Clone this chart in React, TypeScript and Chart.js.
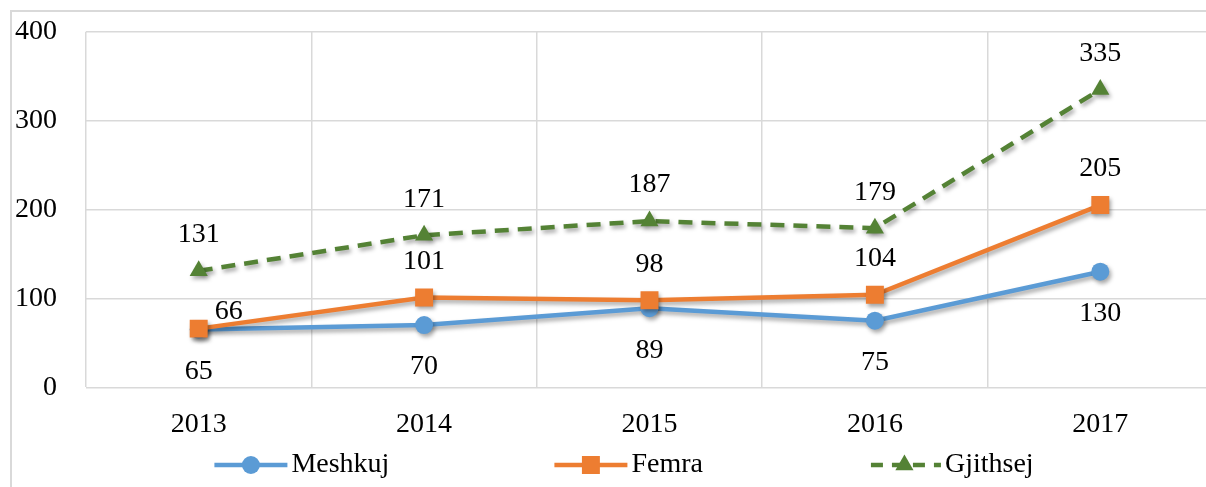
import React, { useEffect, useRef } from "react";
import { Chart, registerables } from "chart.js";

Chart.register(...registerables);

const years = ["2013", "2014", "2015", "2016", "2017"];
const meshkuj = [65, 70, 89, 75, 130];
const femra = [66, 101, 98, 104, 205];
const gjithsej = [131, 171, 187, 179, 335];
const yTicks = [0, 100, 200, 300, 400];

const FONT = "'Liberation Serif', 'Times New Roman', serif";
const FS = 28;
const GRID = "#d9d9d9";

const framePlugin = {
  id: "outerFrame",
  beforeDraw(chart: any) {
    const c = chart.ctx;
    c.save();
    c.strokeStyle = GRID;
    c.lineWidth = 2;
    c.beginPath();
    c.moveTo(11, chart.height + 5);
    c.lineTo(11, 11);
    c.lineTo(chart.width + 5, 11);
    c.stroke();
    c.restore();
  },
};

const shadowPlugin = {
  id: "markShadow",
  beforeDatasetDraw(chart: any) {
    const c = chart.ctx;
    c.save();
    c.shadowColor = "rgba(0,0,0,0.35)";
    c.shadowBlur = 4;
    c.shadowOffsetX = 2;
    c.shadowOffsetY = 3;
  },
  afterDatasetDraw(chart: any) {
    chart.ctx.restore();
  },
};

const labelPlugin = {
  id: "valueLabels",
  afterDatasetsDraw(chart: any) {
    const ctx = chart.ctx;
    ctx.save();
    ctx.font = `${FS}px ${FONT}`;
    ctx.fillStyle = "#000";
    ctx.textAlign = "center";
    ctx.textBaseline = "middle";
    chart.data.datasets.forEach((ds: any, i: number) => {
      const meta = chart.getDatasetMeta(i);
      meta.data.forEach((pt: any, j: number) => {
        const place = ds.labelPlaces[j];
        let dx = 0;
        let dy = 0;
        if (place === "below") dy = 42;
        else if (place === "above") dy = -36;
        else if (place === "right") {
          dx = 30;
          dy = -17;
        }
        ctx.fillText(String(ds.data[j]), pt.x + dx, pt.y + dy);
      });
    });
    ctx.restore();
  },
};

const legendPlugin = {
  id: "lineLegend",
  afterDraw(chart: any) {
    const ctx = chart.ctx;
    const y = chart.height - 22;
    const symW = 73;
    const textGap = 4;
    const itemGap = 165;
    ctx.save();
    ctx.font = `${FS}px ${FONT}`;
    const items = chart.data.datasets.map((ds: any) => ({
      ds,
      tw: ctx.measureText(ds.label).width,
    }));
    const total =
      items.reduce((s: number, it: any) => s + symW + textGap + it.tw, 0) +
      itemGap * (items.length - 1);
    let x = 624 - total / 2;
    items.forEach((it: any) => {
      const ds = it.ds;
      ctx.save();
      ctx.strokeStyle = ds.borderColor;
      ctx.lineWidth = ds.borderWidth;
      ctx.lineCap = "butt";
      if (ds.borderDash && ds.borderDash.length) {
        ctx.setLineDash([12, 9]);
        ctx.lineDashOffset = -3;
      }
      ctx.beginPath();
      ctx.moveTo(x, y);
      ctx.lineTo(x + symW, y);
      ctx.stroke();
      ctx.setLineDash([]);
      ctx.fillStyle = ds.pointBackgroundColor;
      const cx = x + symW / 2;
      const r = ds.pointRadius;
      ctx.beginPath();
      if (ds.pointStyle === "circle") {
        ctx.arc(cx, y, r, 0, Math.PI * 2);
      } else if (ds.pointStyle === "rect") {
        const s = r * Math.SQRT1_2;
        ctx.rect(cx - s, y - s, 2 * s, 2 * s);
      } else {
        ctx.moveTo(cx, y - r);
        ctx.lineTo(cx + r * 0.866, y + r * 0.5);
        ctx.lineTo(cx - r * 0.866, y + r * 0.5);
        ctx.closePath();
      }
      ctx.fill();
      ctx.restore();
      ctx.fillStyle = "#000";
      ctx.textAlign = "left";
      ctx.textBaseline = "middle";
      ctx.fillText(ds.label, x + symW + textGap, y);
      x += symW + textGap + it.tw + itemGap;
    });
    ctx.restore();
  },
};

export default function App() {
  const ref = useRef<HTMLCanvasElement | null>(null);

  useEffect(() => {
    document.body.style.overflow = "hidden";
    const canvas = ref.current;
    if (!canvas) return;
    const chart = new Chart(canvas, {
      type: "line",
      data: {
        labels: years,
        datasets: [
          {
            label: "Meshkuj",
            data: meshkuj,
            borderColor: "#5b9bd5",
            backgroundColor: "#5b9bd5",
            pointBackgroundColor: "#5b9bd5",
            pointBorderColor: "#5b9bd5",
            borderWidth: 4.5,
            pointStyle: "circle",
            pointRadius: 9,
            pointBorderWidth: 0,
            tension: 0,
            order: 2,
            labelPlaces: ["below", "below", "below", "below", "below"],
          } as any,
          {
            label: "Femra",
            data: femra,
            borderColor: "#ed7d31",
            backgroundColor: "#ed7d31",
            pointBackgroundColor: "#ed7d31",
            pointBorderColor: "#ed7d31",
            borderWidth: 4.5,
            pointStyle: "rect",
            pointRadius: 12.7,
            pointBorderWidth: 0,
            tension: 0,
            order: 1,
            labelPlaces: ["right", "above", "above", "above", "above"],
          } as any,
          {
            label: "Gjithsej",
            data: gjithsej,
            borderColor: "#548235",
            backgroundColor: "#548235",
            pointBackgroundColor: "#548235",
            pointBorderColor: "#548235",
            borderWidth: 4.5,
            borderDash: [14, 9],
            borderCapStyle: "butt",
            pointStyle: "triangle",
            pointRadius: 10.5,
            pointBorderWidth: 0,
            tension: 0,
            order: 0,
            labelPlaces: ["above", "above", "above", "above", "above"],
          } as any,
        ],
      },
      options: {
        responsive: false,
        animation: false,
        events: [],
        layout: { padding: { top: 31.7, right: 15, bottom: 44.7, left: 0 } },
        plugins: {
          legend: { display: false },
          tooltip: { enabled: false },
          title: { display: false },
        },
        scales: {
          x: {
            type: "category",
            offset: true,
            grid: {
              offset: true,
              color: (c: any) => (c.index >= years.length ? "rgba(0,0,0,0)" : GRID),
              lineWidth: 1.5,
              drawTicks: false,
            },
            border: { display: false },
            ticks: { padding: 21, color: "#000", font: { family: FONT, size: FS } },
            afterFit: (s: any) => {
              s.height = 55;
              s.paddingLeft = 0;
              s.paddingRight = 0;
            },
          },
          y: {
            min: 0,
            max: 400,
            grid: { color: GRID, lineWidth: 1.5, drawTicks: false },
            border: { display: false },
            ticks: { padding: 29, color: "#000", font: { family: FONT, size: FS } },
            afterBuildTicks: (s: any) => {
              s.ticks = yTicks.map((v) => ({ value: v }));
            },
            afterFit: (s: any) => {
              s.width = 86;
              s.paddingTop = 0;
              s.paddingBottom = 0;
            },
          },
        },
      } as any,
      plugins: [framePlugin, shadowPlugin, labelPlugin, legendPlugin],
    });
    return () => chart.destroy();
  }, []);

  return (
    <div style={{ position: "fixed", left: 0, top: 0, width: 1206, height: 487, overflow: "hidden", background: "#fff" }}>
      <canvas
        ref={ref}
        width={1228}
        height={487}
        style={{ position: "absolute", left: 0, top: 0, width: 1228, height: 487 }}
      />
    </div>
  );
}
